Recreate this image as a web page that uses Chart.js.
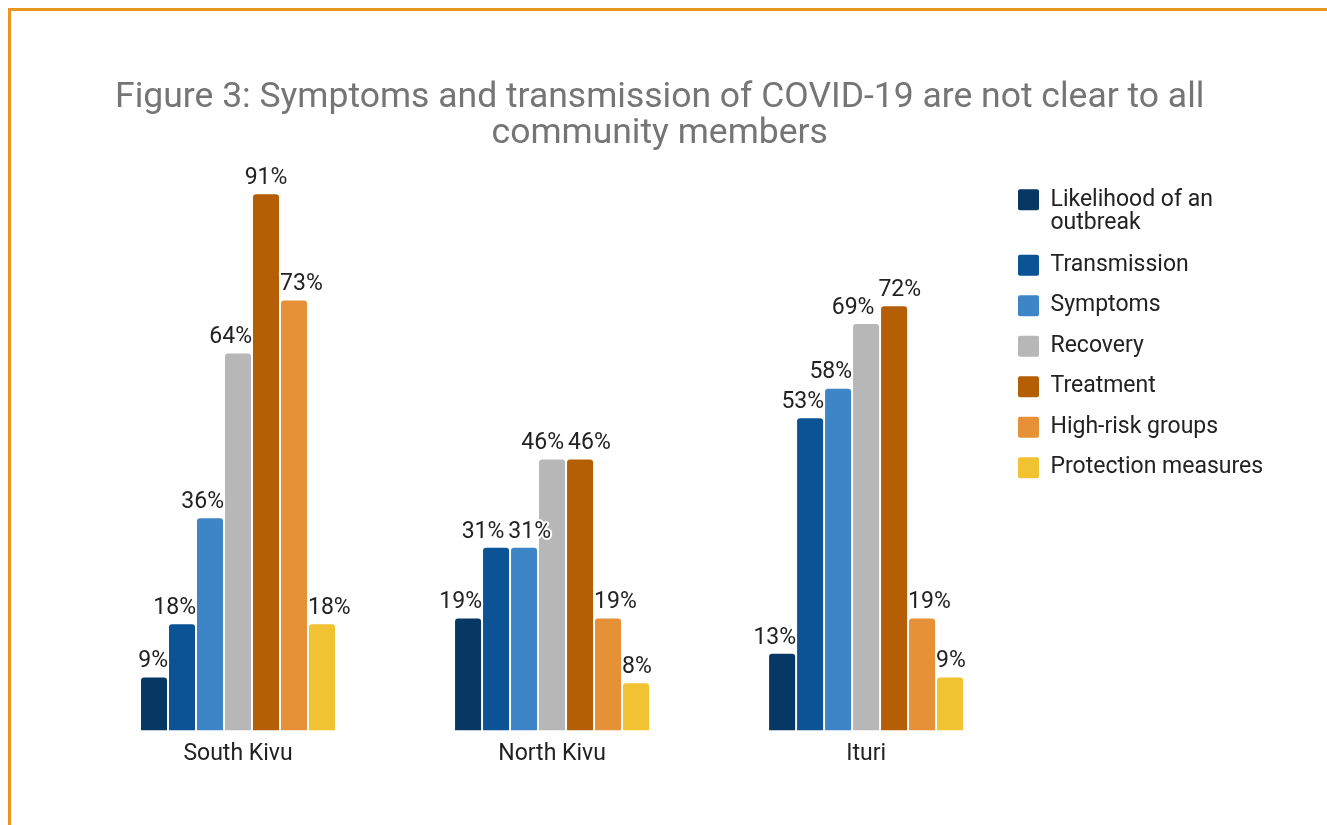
<!DOCTYPE html>
<html>
<head>
<meta charset="utf-8">
<title>Figure 3</title>
<script src="https://cdn.jsdelivr.net/npm/chart.js@4.4.0/dist/chart.umd.min.js"></script>
<style>
  html, body { margin: 0; padding: 0; background: #fff; overflow: hidden; }
  .frame {
    position: absolute; left: 8px; top: 8px; width: 1400px; height: 900px;
    border-left: 3px solid #E9961E; border-top: 3px solid #E9961E;
  }
  #chart { position: absolute; left: 0; top: 0; }
</style>
</head>
<body>
<div class="frame"></div>
<canvas id="chart" width="1327" height="825"></canvas>
<script>
// provinces along the x axis
const regions = ['South Kivu', 'North Kivu', 'Ituri'];

// share of respondents (%) per topic, one value per province
const likelihood   = [9, 19, 13];
const transmission = [18, 31, 53];
const symptoms     = [36, 31, 58];
const recovery     = [64, 46, 69];
const treatment    = [91, 46, 72];
const highRisk     = [73, 19, 19];
const protection   = [18, 8, 9];

const seriesNames = ['Likelihood of an outbreak', 'Transmission', 'Symptoms', 'Recovery',
  'Treatment', 'High-risk groups', 'Protection measures'];
const seriesValues = [likelihood, transmission, symptoms, recovery, treatment, highRisk, protection];
const seriesColors = ['#073763', '#0b5394', '#3d85c6', '#b7b7b7', '#b45f06', '#e69138', '#f1c232'];

const titleLines = ['Figure 3: Symptoms and transmission of COVID-19 are not clear to all',
  'community members'];

Chart.defaults.font.family = 'Roboto';

// break long legend entries onto two lines
function wrapLabel(text) {
  if (text.length <= 20) return text;
  const cut = text.lastIndexOf(' ', 17);
  return [text.slice(0, cut), text.slice(cut + 1)];
}

// percentage above every bar, with a white halo;
// labels are nudged off taller neighbouring bars and away from each other
const valueLabels = {
  id: 'valueLabels',
  afterDatasetsDraw(chart) {
    const ctx = chart.ctx;
    const n = chart.data.datasets.length;
    ctx.save();
    ctx.font = '23px Roboto';
    ctx.textAlign = 'center';
    ctx.textBaseline = 'middle';
    ctx.lineJoin = 'round';

    regions.forEach((region, k) => {
      const items = [];
      for (let i = 0; i < n; i++) {
        const bar = chart.getDatasetMeta(i).data[k];
        const text = chart.data.datasets[i].data[k].y + '%';
        items.push({ bar, text, w: ctx.measureText(text).width, x: bar.x, y: bar.y - 16 });
      }

      items.forEach((it, i) => {
        const half = it.w / 2 + 1;
        const bottom = it.y + 9;
        const left = items[i - 1], right = items[i + 1];
        const blockL = left && left.bar.y < bottom;
        const blockR = right && right.bar.y < bottom;
        if (blockR && !blockL) it.x = Math.min(it.x, right.bar.x - right.bar.width / 2 - half);
        if (blockL && !blockR) it.x = Math.max(it.x, left.bar.x + left.bar.width / 2 + half);
      });

      for (let pass = 0; pass < 5; pass++) {
        for (let i = 1; i < items.length; i++) {
          const a = items[i - 1], b = items[i];
          if (Math.abs(a.y - b.y) >= 22) continue;
          const overlap = (a.w + b.w) / 2 + 4 - (b.x - a.x);
          if (overlap > 0) { a.x -= overlap / 2; b.x += overlap / 2; }
        }
      }

      items.forEach(it => {
        ctx.lineWidth = 4;
        ctx.strokeStyle = '#fff';
        ctx.strokeText(it.text, it.x, it.y);
        ctx.fillStyle = '#222';
        ctx.fillText(it.text, it.x, it.y);
      });
    });
    ctx.restore();
  }
};

new Chart(document.getElementById('chart'), {
  type: 'bar',
  data: {
    datasets: seriesNames.map((name, i) => ({
      label: name,
      data: seriesValues[i].map((v, k) => ({ x: k, y: v })),
      backgroundColor: seriesColors[i],
      borderRadius: 3,
      barPercentage: 0.93,
      categoryPercentage: 0.624
    }))
  },
  options: {
    responsive: false,
    animation: false,
    layout: { padding: { left: 51, right: 58.5, top: 0, bottom: 47 } },
    scales: {
      x: {
        type: 'linear',
        offset: false,
        min: -0.5955,
        max: 2.428,
        grid: { display: false, drawTicks: false },
        border: { display: false },
        afterBuildTicks: scale => { scale.ticks = regions.map((r, i) => ({ value: i })); },
        ticks: {
          callback: v => regions[v],
          color: '#222',
          font: { size: 23 },
          padding: 10,
          autoSkip: false,
          maxRotation: 0
        }
      },
      y: { display: false, min: 0, max: 95 }
    },
    plugins: {
      title: {
        display: true,
        text: titleLines,
        color: '#757575',
        font: { size: 35.5, weight: 'normal', lineHeight: 0.99 },
        padding: { top: 81, bottom: 19.5 }
      },
      legend: {
        position: 'right',
        align: 'start',
        fullSize: false,
        maxWidth: 268,
        labels: {
          boxWidth: 21,
          boxHeight: 21,
          padding: 17.5,
          color: '#222',
          useBorderRadius: true,
          borderRadius: 2,
          font: { size: 23, lineHeight: 1.04 },
          generateLabels: chart => Chart.defaults.plugins.legend.labels.generateLabels(chart)
            .map(item => Object.assign(item, { text: wrapLabel(item.text) }))
        }
      },
      tooltip: { enabled: false }
    }
  },
  plugins: [valueLabels]
});
</script>
</body>
</html>
